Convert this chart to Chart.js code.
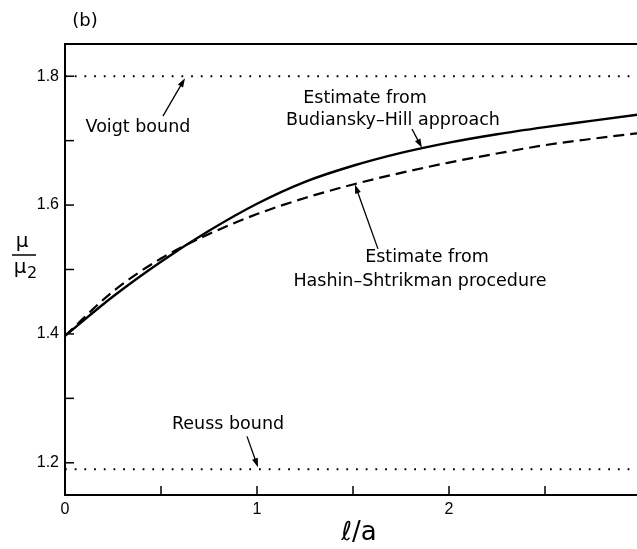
<!DOCTYPE html>
<html>
<head>
<meta charset="utf-8">
<script src="https://cdn.jsdelivr.net/npm/chart.js@4/dist/chart.umd.min.js"></script>
<style>
html, body { margin: 0; padding: 0; overflow: hidden; background: #fff; }
#wrap { width: 660px; height: 549px; position: relative; }
</style>
</head>
<body>
<div id="wrap"><canvas id="c"></canvas></div>
<script>
// ---- data ----
const xValues = [0, 0.25, 0.5, 0.75, 1, 1.25, 1.5, 1.75, 2, 2.25, 2.5, 2.75, 3];
const budianskyHill = [1.397, 1.458, 1.512, 1.560, 1.602, 1.636, 1.661, 1.681, 1.697, 1.710, 1.721, 1.731, 1.741];
const hashinShtrikman = [1.397, 1.466, 1.517, 1.555, 1.586, 1.611, 1.632, 1.650, 1.666, 1.680, 1.693, 1.703, 1.712];
const boundX = [0, 3];
const voigtBound = [1.8, 1.8];
const reussBound = [1.19, 1.19];
const xTickValues = [0, 0.5, 1, 1.5, 2, 2.5, 3];
const xTickLabels = ['0', '', '1', '', '2', '', '3'];
const yTickValues = [1.2, 1.3, 1.4, 1.5, 1.6, 1.7, 1.8];
const yTickLabels = ['1.2', '', '1.4', '', '1.6', '', '1.8'];

const pts = (xs, ys) => xs.map((x, i) => ({ x: x, y: ys[i] }));

const TXT = '"DejaVu Sans", sans-serif';

const decor = {
  id: 'decor',
  afterDraw(chart) {
    const ctx = chart.ctx;
    const xs = chart.scales.x, ys = chart.scales.y;
    const a = chart.chartArea;
    const X = v => xs.getPixelForValue(v);
    const Y = v => ys.getPixelForValue(v);
    ctx.save();
    ctx.strokeStyle = '#000';
    ctx.fillStyle = '#000';
    // top frame line
    ctx.lineWidth = 2;
    ctx.beginPath(); ctx.moveTo(a.left - 1, a.top); ctx.lineTo(a.right + 5, a.top); ctx.stroke();
    // inward ticks
    ctx.lineWidth = 1.5;
    xs.ticks.forEach(t => {
      const px = X(t.value);
      if (px <= a.left + 1) return;
      ctx.beginPath(); ctx.moveTo(px, a.bottom); ctx.lineTo(px, a.bottom - 9); ctx.stroke();
    });
    ys.ticks.forEach(t => {
      const py = Y(t.value);
      ctx.beginPath(); ctx.moveTo(a.left, py); ctx.lineTo(a.left + 9, py); ctx.stroke();
    });
    // panel label
    ctx.font = '18px ' + TXT;
    ctx.textAlign = 'center'; ctx.textBaseline = 'middle';
    ctx.fillText('(b)', 85, 21);
    // y-axis fraction label
    ctx.font = '20px ' + TXT;
    ctx.fillText('\u03bc', 22, 242);
    ctx.lineWidth = 1.5;
    ctx.beginPath(); ctx.moveTo(12, 255); ctx.lineTo(36, 255); ctx.stroke();
    ctx.fillText('\u03bc', 20, 268);
    ctx.font = '16px ' + TXT;
    ctx.fillText('2', 32, 274);
    // x-axis label
    ctx.font = '26px ' + TXT;
    ctx.fillText('\u2113/a', 359, 533);

    // annotations
    ctx.font = '17.5px ' + TXT;
    const text = (s, x, y) => ctx.fillText(s, X(x), Y(y));
    text('Voigt bound', 0.38, 1.721);
    text('Estimate from', 1.5625, 1.766);
    text('Budiansky\u2013Hill approach', 1.708, 1.731);
    text('Estimate from', 1.885, 1.518);
    text('Hashin\u2013Shtrikman procedure', 1.849, 1.482);
    text('Reuss bound', 0.849, 1.259);

    const arrow = (x0, y0, x1, y1) => {
      const p0 = [X(x0), Y(y0)], p1 = [X(x1), Y(y1)];
      const ang = Math.atan2(p1[1] - p0[1], p1[0] - p0[0]);
      const L = 9, W = 3;
      ctx.lineWidth = 1.3;
      ctx.beginPath(); ctx.moveTo(p0[0], p0[1]);
      ctx.lineTo(p1[0] - Math.cos(ang) * L * 0.8, p1[1] - Math.sin(ang) * L * 0.8); ctx.stroke();
      ctx.beginPath();
      ctx.moveTo(p1[0], p1[1]);
      ctx.lineTo(p1[0] - Math.cos(ang) * L - Math.sin(ang) * W, p1[1] - Math.sin(ang) * L + Math.cos(ang) * W);
      ctx.lineTo(p1[0] - Math.cos(ang) * L + Math.sin(ang) * W, p1[1] - Math.sin(ang) * L - Math.cos(ang) * W);
      ctx.closePath(); ctx.fill();
    };
    arrow(0.51, 1.738, 0.625, 1.797);
    arrow(1.807, 1.718, 1.859, 1.689);
    arrow(1.63, 1.532, 1.51, 1.632);
    arrow(0.948, 1.241, 1.005, 1.193);
    ctx.restore();
  }
};

new Chart(document.getElementById('c'), {
  type: 'line',
  data: {
    datasets: [
      { label: 'Budiansky-Hill', data: pts(xValues, budianskyHill), borderColor: '#000', borderWidth: 2.4,
        pointRadius: 0, cubicInterpolationMode: 'monotone', fill: false },
      { label: 'Hashin-Shtrikman', data: pts(xValues, hashinShtrikman), borderColor: '#000', borderWidth: 2.2,
        borderDash: [11, 6], pointRadius: 0, cubicInterpolationMode: 'monotone', fill: false },
      { label: 'Voigt bound', data: pts(boundX, voigtBound), borderColor: '#000', borderWidth: 2,
        borderDash: [1.8, 7.9], pointRadius: 0, fill: false },
      { label: 'Reuss bound', data: pts(boundX, reussBound), borderColor: '#000', borderWidth: 2,
        borderDash: [1.8, 7.9], pointRadius: 0, fill: false }
    ]
  },
  options: {
    responsive: true,
    maintainAspectRatio: false,
    animation: false,
    layout: { padding: { top: 44, right: 19, left: 0, bottom: 0 } },
    plugins: { legend: { display: false }, tooltip: { enabled: false } },
    scales: {
      x: {
        type: 'linear', min: 0, max: 3,
        afterFit: s => { s.height = 54; },
        afterBuildTicks: s => { s.ticks = xTickValues.map(v => ({ value: v })); },
        grid: { display: false, drawTicks: false },
        border: { display: true, color: '#000', width: 2 },
        ticks: {
          padding: 5, color: '#000', maxRotation: 0, autoSkip: false,
          font: { family: '"Liberation Sans", sans-serif', size: 16 },
          callback: (v, i) => xTickLabels[i]
        }
      },
      y: {
        type: 'linear', min: 1.15, max: 1.85,
        afterFit: s => { s.width = 65; },
        afterBuildTicks: s => { s.ticks = yTickValues.map(v => ({ value: v })); },
        grid: { display: false, drawTicks: false },
        border: { display: true, color: '#000', width: 2 },
        ticks: {
          padding: 6, color: '#000', autoSkip: false,
          font: { family: '"Liberation Sans", sans-serif', size: 16 },
          callback: (v, i) => yTickLabels[i]
        }
      }
    }
  },
  plugins: [decor]
});
</script>
</body>
</html>
